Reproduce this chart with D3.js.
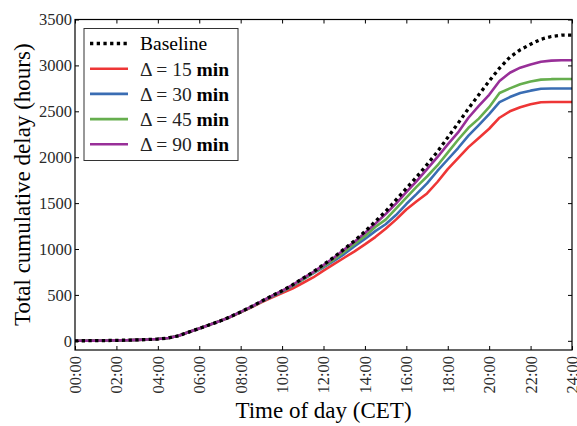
<!DOCTYPE html>
<html>
<head>
<meta charset="utf-8">
<script src="https://cdn.jsdelivr.net/npm/d3@7"></script>
<style>
  html, body { margin: 0; padding: 0; background: #fff; }
  svg { display: block; }
  text { font-family: "Liberation Serif", "DejaVu Serif", serif; }
</style>
</head>
<body>
<svg id="chart" width="577" height="426"></svg>
<script>
// Time of day in hours (CET), sampled every 30 minutes
const hours = d3.range(0, 24.5, 0.5);

// Total cumulative delay (hours) per scenario, one value per half hour
const baseline = [0, 1, 2, 3, 5, 7, 10, 14, 20, 30, 55, 95, 135, 175, 215, 262, 315, 370, 430, 490, 545, 610, 680, 750, 830, 910, 1000, 1090, 1190, 1300, 1410, 1535, 1660, 1785, 1920, 2060, 2215, 2370, 2530, 2680, 2830, 2970, 3090, 3170, 3230, 3285, 3315, 3330, 3330];
const delta15 = [0, 1, 2, 3, 5, 7, 10, 14, 20, 30, 55, 95, 135, 175, 215, 260, 310, 362, 420, 470, 520, 570, 630, 690, 765, 835, 905, 975, 1050, 1130, 1220, 1320, 1430, 1520, 1605, 1730, 1870, 1990, 2110, 2210, 2310, 2430, 2500, 2545, 2576, 2598, 2602, 2602, 2602];
const delta30 = [0, 1, 2, 3, 5, 7, 10, 14, 20, 30, 55, 95, 135, 175, 215, 261, 313, 367, 426, 482, 535, 595, 665, 735, 800, 870, 945, 1030, 1110, 1195, 1270, 1370, 1490, 1600, 1715, 1850, 1975, 2100, 2235, 2350, 2470, 2600, 2655, 2700, 2725, 2745, 2748, 2748, 2748];
const delta45 = [0, 1, 2, 3, 5, 7, 10, 14, 20, 30, 55, 95, 135, 175, 215, 261, 314, 368, 428, 486, 540, 600, 670, 740, 810, 885, 970, 1055, 1140, 1240, 1320, 1440, 1560, 1680, 1790, 1910, 2050, 2190, 2320, 2420, 2545, 2700, 2750, 2795, 2825, 2845, 2850, 2852, 2852];
const delta90 = [0, 1, 2, 3, 5, 7, 10, 14, 20, 30, 55, 95, 135, 175, 215, 262, 315, 370, 430, 490, 545, 608, 680, 748, 825, 905, 995, 1080, 1175, 1275, 1380, 1495, 1620, 1740, 1870, 2000, 2140, 2270, 2430, 2560, 2680, 2830, 2920, 2975, 3010, 3040, 3052, 3056, 3056];

const xTickValues = d3.range(0, 25, 2);
const xTickLabels = ["00:00", "02:00", "04:00", "06:00", "08:00", "10:00", "12:00", "14:00", "16:00", "18:00", "20:00", "22:00", "24:00"];
const yTickValues = [0, 500, 1000, 1500, 2000, 2500, 3000, 3500];

const series = [
  { name: "Baseline", values: baseline, color: "#000000", dash: "3.3,3.4", width: 3.3, delta: null },
  { name: "15", values: delta15, color: "#ee3636", dash: null, width: 2.6, delta: 15 },
  { name: "30", values: delta30, color: "#3a6db3", dash: null, width: 2.6, delta: 30 },
  { name: "45", values: delta45, color: "#66ae4e", dash: null, width: 2.6, delta: 45 },
  { name: "90", values: delta90, color: "#982f98", dash: null, width: 2.6, delta: 90 }
];

const svg = d3.select("#chart");
const margin = { left: 75, right: 5, top: 19.5, bottom: 76 };
const W = 577, H = 426;
const x = d3.scaleLinear().domain([0, 24]).range([margin.left, W - margin.right]);
const y = d3.scaleLinear().domain([-100, 3500]).range([H - margin.bottom, margin.top]);

svg.append("defs").append("clipPath").attr("id", "plot-clip")
  .append("rect")
  .attr("x", x(0)).attr("y", y(3500))
  .attr("width", x(24) - x(0)).attr("height", y(-100) - y(3500));

// Curves: draw coloured scenarios first, baseline on top
const line = d3.line().x((d, i) => x(hours[i])).y(d => y(d));
const plot = svg.append("g").attr("clip-path", "url(#plot-clip)");
const order = [series[1], series[2], series[3], series[4], series[0]];
order.forEach(s => {
  plot.append("path")
    .datum(s.values)
    .attr("fill", "none")
    .attr("stroke", s.color)
    .attr("stroke-width", s.width)
    .attr("stroke-dasharray", s.dash)
    .attr("stroke-linejoin", "round")
    .attr("d", line);
});

// Axes with inward ticks on all four sides
const tickLen = 4;
const axBottom = svg.append("g").attr("transform", `translate(0,${y(-100)})`)
  .call(d3.axisBottom(x).tickValues(xTickValues).tickSize(-tickLen).tickPadding(6)
    .tickFormat((d, i) => xTickLabels[i]));
axBottom.selectAll("text")
  .attr("transform", "rotate(-90)")
  .attr("text-anchor", "end")
  .attr("dy", "0.33em")
  .attr("x", -6)
  .attr("y", 0);

const axTop = svg.append("g").attr("transform", `translate(0,${y(3500)})`)
  .call(d3.axisTop(x).tickValues(xTickValues).tickSize(-tickLen).tickFormat(""));

const axLeft = svg.append("g").attr("transform", `translate(${x(0)},0)`)
  .call(d3.axisLeft(y).tickValues(yTickValues).tickSize(-tickLen).tickPadding(3).tickFormat(d3.format("d")));

const axRight = svg.append("g").attr("transform", `translate(${x(24)},0)`)
  .call(d3.axisRight(y).tickValues(yTickValues).tickSize(-tickLen).tickFormat(""));

[axBottom, axTop, axLeft, axRight].forEach(g => {
  g.select(".domain").remove();
  g.selectAll(".tick line").attr("stroke", "#000").attr("stroke-width", 1);
  g.selectAll("text").attr("font-size", 16.5).attr("fill", "#2a2a2a")
    .style("font-family", '"Liberation Serif", serif');
});

svg.append("rect")
  .attr("x", x(0)).attr("y", y(3500))
  .attr("width", x(24) - x(0)).attr("height", y(-100) - y(3500))
  .attr("fill", "none").attr("stroke", "#000").attr("stroke-width", 1.2);

// Axis titles
svg.append("text")
  .attr("x", (x(0) + x(24)) / 2).attr("y", 418)
  .attr("text-anchor", "middle").attr("font-size", 23)
  .text("Time of day (CET)");

svg.append("text")
  .attr("transform", `translate(30,${(y(-100) + y(3500)) / 2}) rotate(-90)`)
  .attr("text-anchor", "middle").attr("font-size", 23)
  .text("Total cumulative delay (hours)");

// Legend
const lg = svg.append("g").attr("transform", "translate(84,28.5)");
lg.append("rect").attr("width", 154).attr("height", 132)
  .attr("fill", "#fff").attr("stroke", "#333").attr("stroke-width", 1);
series.forEach((s, i) => {
  const cy = 15 + i * 25.2;
  lg.append("line")
    .attr("x1", 6).attr("x2", 44).attr("y1", cy).attr("y2", cy)
    .attr("stroke", s.color).attr("stroke-width", s.width)
    .attr("stroke-dasharray", s.dash);
  const t = lg.append("text").attr("x", 56).attr("y", cy).attr("dy", "0.35em")
    .attr("font-size", 19.5).attr("fill", "#000");
  if (s.delta === null) {
    t.text(s.name);
  } else {
    t.append("tspan").attr("fill", "#222").text(`Δ = ${s.delta} `);
    t.append("tspan").attr("font-weight", "bold").text("min");
  }
});
</script>
</body>
</html>
